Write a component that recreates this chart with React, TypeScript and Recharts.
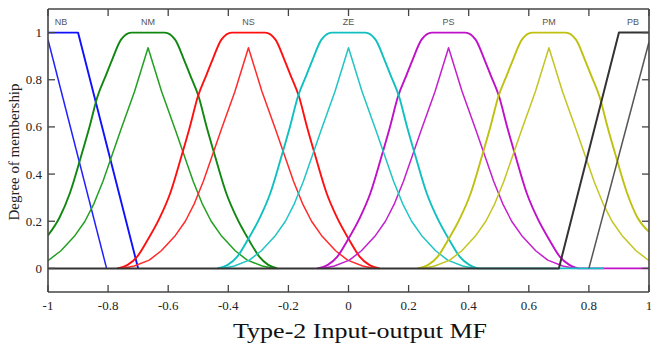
import React from 'react';
import { LineChart, Line, XAxis, YAxis, ReferenceDot } from 'recharts';

type P = [number, number];

const nbUpper: P[] = [[-1, 1], [-0.9, 1], [-0.7, 0]];
const nbLower: P[] = [[-1, 0.97], [-0.805, 0]];

const nmUpper: P[] = [[-1, 0.14], [-0.962, 0.215], [-0.927, 0.32], [-0.889, 0.48], [-0.862, 0.6], [-0.835, 0.73], [-0.807, 0.82], [-0.785, 0.89], [-0.757, 0.97], [-0.723, 1], [-0.611, 1], [-0.577, 0.97], [-0.549, 0.89], [-0.527, 0.82], [-0.499, 0.73], [-0.472, 0.6], [-0.445, 0.48], [-0.407, 0.32], [-0.372, 0.215], [-0.329, 0.115], [-0.297, 0.05], [-0.267, 0.015], [-0.237, 0]];
const nmLower: P[] = [[-1, 0.033], [-0.957, 0.075], [-0.91, 0.14], [-0.877, 0.2], [-0.847, 0.275], [-0.817, 0.37], [-0.787, 0.48], [-0.757, 0.59], [-0.712, 0.75], [-0.667, 0.936], [-0.622, 0.75], [-0.577, 0.59], [-0.547, 0.48], [-0.517, 0.37], [-0.487, 0.275], [-0.457, 0.2], [-0.424, 0.14], [-0.377, 0.075], [-0.337, 0.035], [-0.287, 0.01], [-0.247, 0]];

const nsUpper: P[] = [[-0.77, 0], [-0.735, 0.015], [-0.703, 0.05], [-0.671, 0.115], [-0.628, 0.215], [-0.593, 0.32], [-0.555, 0.48], [-0.528, 0.6], [-0.501, 0.73], [-0.473, 0.82], [-0.451, 0.89], [-0.423, 0.97], [-0.389, 1], [-0.277, 1], [-0.243, 0.97], [-0.215, 0.89], [-0.193, 0.82], [-0.165, 0.73], [-0.138, 0.6], [-0.111, 0.48], [-0.073, 0.32], [-0.038, 0.215], [0.005, 0.115], [0.037, 0.05], [0.069, 0.015], [0.104, 0]];
const nsLower: P[] = [[-0.753, 0], [-0.713, 0.01], [-0.663, 0.035], [-0.623, 0.075], [-0.576, 0.14], [-0.543, 0.2], [-0.513, 0.275], [-0.483, 0.37], [-0.453, 0.48], [-0.423, 0.59], [-0.378, 0.75], [-0.333, 0.936], [-0.288, 0.75], [-0.243, 0.59], [-0.213, 0.48], [-0.183, 0.37], [-0.153, 0.275], [-0.123, 0.2], [-0.09, 0.14], [-0.043, 0.075], [-0.003, 0.035], [0.047, 0.01], [0.087, 0]];

const zeUpper: P[] = [[-0.437, 0], [-0.402, 0.015], [-0.37, 0.05], [-0.338, 0.115], [-0.295, 0.215], [-0.26, 0.32], [-0.222, 0.48], [-0.195, 0.6], [-0.168, 0.73], [-0.14, 0.82], [-0.118, 0.89], [-0.09, 0.97], [-0.056, 1], [0.056, 1], [0.09, 0.97], [0.118, 0.89], [0.14, 0.82], [0.168, 0.73], [0.195, 0.6], [0.222, 0.48], [0.26, 0.32], [0.295, 0.215], [0.338, 0.115], [0.37, 0.05], [0.402, 0.015], [0.437, 0], [0.85, 0]];
const zeLower: P[] = [[-0.42, 0], [-0.38, 0.01], [-0.33, 0.035], [-0.29, 0.075], [-0.243, 0.14], [-0.21, 0.2], [-0.18, 0.275], [-0.15, 0.37], [-0.12, 0.48], [-0.09, 0.59], [-0.045, 0.75], [0, 0.936], [0.045, 0.75], [0.09, 0.59], [0.12, 0.48], [0.15, 0.37], [0.18, 0.275], [0.21, 0.2], [0.243, 0.14], [0.29, 0.075], [0.33, 0.035], [0.38, 0.01], [0.42, 0]];

const psUpper: P[] = [[-0.104, 0], [-0.069, 0.015], [-0.037, 0.05], [-0.005, 0.115], [0.038, 0.215], [0.073, 0.32], [0.111, 0.48], [0.138, 0.6], [0.165, 0.73], [0.193, 0.82], [0.215, 0.89], [0.243, 0.97], [0.277, 1], [0.389, 1], [0.423, 0.97], [0.451, 0.89], [0.473, 0.82], [0.501, 0.73], [0.528, 0.6], [0.555, 0.48], [0.593, 0.32], [0.628, 0.215], [0.671, 0.115], [0.703, 0.05], [0.735, 0.015], [0.77, 0], [1, 0]];
const psLower: P[] = [[-0.087, 0], [-0.047, 0.01], [0.003, 0.035], [0.043, 0.075], [0.09, 0.14], [0.123, 0.2], [0.153, 0.275], [0.183, 0.37], [0.213, 0.48], [0.243, 0.59], [0.288, 0.75], [0.333, 0.936], [0.378, 0.75], [0.423, 0.59], [0.453, 0.48], [0.483, 0.37], [0.513, 0.275], [0.543, 0.2], [0.576, 0.14], [0.623, 0.075], [0.663, 0.035], [0.713, 0.01], [0.753, 0]];

const pmUpper: P[] = [[0.23, 0], [0.265, 0.015], [0.297, 0.05], [0.329, 0.115], [0.372, 0.215], [0.407, 0.32], [0.445, 0.48], [0.472, 0.6], [0.499, 0.73], [0.527, 0.82], [0.549, 0.89], [0.577, 0.97], [0.611, 1], [0.723, 1], [0.757, 0.97], [0.785, 0.89], [0.807, 0.82], [0.835, 0.73], [0.862, 0.6], [0.889, 0.48], [0.927, 0.32], [0.962, 0.215], [1, 0.155]];
const pmLower: P[] = [[0.247, 0], [0.287, 0.01], [0.337, 0.035], [0.377, 0.075], [0.424, 0.14], [0.457, 0.2], [0.487, 0.275], [0.517, 0.37], [0.547, 0.48], [0.577, 0.59], [0.622, 0.75], [0.667, 0.936], [0.712, 0.75], [0.757, 0.59], [0.787, 0.48], [0.817, 0.37], [0.847, 0.275], [0.877, 0.2], [0.91, 0.14], [0.957, 0.075], [1, 0.033]];

const pbUpper: P[] = [[-1, 0], [0.7, 0], [0.9, 1], [1, 1]];
const pbLower: P[] = [[0.8, 0], [1, 0.96]];

const mfNames = ['NB', 'NM', 'NS', 'ZE', 'PS', 'PM', 'PB'];
const mfLabelX = [-0.957, -0.667, -0.333, 0, 0.333, 0.667, 0.947];

const tickX = [-1, -0.8, -0.6, -0.4, -0.2, 0, 0.2, 0.4, 0.6, 0.8, 1];
const tickXLabels = ['-1', '-0.8', '-0.6', '-0.4', '-0.2', '0', '0.2', '0.4', '0.6', '0.8', '1'];
const tickY = [0, 0.2, 0.4, 0.6, 0.8, 1];
const tickYLabels = ['0', '0.2', '0.4', '0.6', '0.8', '1'];

const SERIF = '"Liberation Serif", "Times New Roman", serif';
const FRAME = '#444';

const toData = (pts: P[]) => pts.map(([x, y]) => ({ x, y }));

type Series = { key: string; pts: P[]; color: string; width: number; type: 'monotone' | 'linear' };
const series: Series[] = [
  { key: 'nbU', pts: nbUpper, color: '#1010ff', width: 1.9, type: 'linear' },
  { key: 'nbL', pts: nbLower, color: '#2020ff', width: 1.5, type: 'linear' },
  { key: 'nmU', pts: nmUpper, color: '#108810', width: 1.9, type: 'monotone' },
  { key: 'nmL', pts: nmLower, color: '#22a022', width: 1.5, type: 'linear' },
  { key: 'nsU', pts: nsUpper, color: '#ff1010', width: 1.9, type: 'monotone' },
  { key: 'nsL', pts: nsLower, color: '#ff2a2a', width: 1.5, type: 'linear' },
  { key: 'psU', pts: psUpper, color: '#c010c8', width: 1.9, type: 'monotone' },
  { key: 'psL', pts: psLower, color: '#c420cc', width: 1.5, type: 'linear' },
  { key: 'zeU', pts: zeUpper, color: '#10c0c0', width: 1.9, type: 'monotone' },
  { key: 'zeL', pts: zeLower, color: '#22c4c4', width: 1.5, type: 'linear' },
  { key: 'pmU', pts: pmUpper, color: '#c0c010', width: 1.9, type: 'monotone' },
  { key: 'pmL', pts: pmLower, color: '#c4c422', width: 1.5, type: 'linear' },
  { key: 'pbU', pts: pbUpper, color: '#333333', width: 2, type: 'linear' },
  { key: 'pbL', pts: pbLower, color: '#555555', width: 1.5, type: 'linear' },
];

const TL = 7;

const BottomTick = (p: any) => {
  const { x, y, payload } = p;
  const i = tickX.indexOf(payload.value);
  return (
    <g>
      <line x1={x} y1={y} x2={x} y2={y - TL} stroke={FRAME} strokeWidth={1.3} />
      <text x={x} y={y + 18} textAnchor="middle" fontFamily={SERIF} fontSize={13} fill="#222">
        {tickXLabels[i]}
      </text>
    </g>
  );
};
const TopTick = (p: any) => {
  const { x, y } = p;
  return <line x1={x} y1={y} x2={x} y2={y + TL} stroke={FRAME} strokeWidth={1.3} />;
};
const LeftTick = (p: any) => {
  const { x, y, payload } = p;
  const i = tickY.indexOf(payload.value);
  return (
    <g>
      <line x1={x} y1={y} x2={x + TL} y2={y} stroke={FRAME} strokeWidth={1.3} />
      <text x={x - 6} y={y + 4.5} textAnchor="end" fontFamily={SERIF} fontSize={13} fill="#222">
        {tickYLabels[i]}
      </text>
    </g>
  );
};
const RightTick = (p: any) => {
  const { x, y } = p;
  return <line x1={x} y1={y} x2={x - TL} y2={y} stroke={FRAME} strokeWidth={1.3} />;
};

export default function App() {
  return (
    <div style={{ position: 'absolute', left: 0, top: 0, width: 651, height: 345, background: '#fff' }}>
      <LineChart width={651} height={345} margin={{ top: 0, right: 0, bottom: 0, left: 0 }}>
        <XAxis
          dataKey="x"
          type="number"
          domain={[-1, 1]}
          ticks={tickX}
          allowDataOverflow
          height={53}
          tickLine={false}
          tickSize={0}
          tickMargin={0}
          tick={BottomTick}
          interval={0}
          axisLine={{ stroke: FRAME, strokeWidth: 1.6 }}
        />
        <XAxis
          xAxisId="t"
          orientation="top"
          dataKey="x"
          type="number"
          domain={[-1, 1]}
          ticks={tickX}
          allowDataOverflow
          height={9}
          tickLine={false}
          tickSize={0}
          tickMargin={0}
          tick={TopTick}
          interval={0}
          axisLine={{ stroke: FRAME, strokeWidth: 1.6 }}
        />
        <YAxis
          type="number"
          domain={[-0.1, 1.1]}
          ticks={tickY}
          allowDataOverflow
          width={48}
          tickLine={false}
          tickSize={0}
          tickMargin={0}
          tick={LeftTick}
          interval={0}
          axisLine={{ stroke: FRAME, strokeWidth: 1.6 }}
        />
        <YAxis
          yAxisId="r"
          orientation="right"
          type="number"
          domain={[-0.1, 1.1]}
          ticks={tickY}
          allowDataOverflow
          width={2}
          tickLine={false}
          tickSize={0}
          tickMargin={0}
          tick={RightTick}
          interval={0}
          axisLine={{ stroke: FRAME, strokeWidth: 1.6 }}
        />
        {series.map((s) => (
          <Line
            key={s.key}
            data={toData(s.pts)}
            dataKey="y"
            type={s.type}
            stroke={s.color}
            strokeWidth={s.width}
            dot={false}
            activeDot={false}
            isAnimationActive={false}
            strokeLinejoin="round"
          />
        ))}
        {mfNames.map((n, i) => (
          <ReferenceDot
            key={n}
            x={mfLabelX[i]}
            y={1.044}
            r={0}
            fill="none"
            stroke="none"
            label={{ value: n, position: 'center', fill: '#555', fontSize: 9, fontFamily: 'Liberation Sans, Arial, sans-serif' }}
          />
        ))}
      </LineChart>
      <svg width={651} height={345} style={{ position: 'absolute', left: 0, top: 0, pointerEvents: 'none' }}>
        <text
          x={360}
          y={338}
          textAnchor="middle"
          fontFamily={SERIF}
          fontSize={22}
          fill="#111"
          textLength={254}
          lengthAdjust="spacingAndGlyphs"
        >
          Type-2 Input-output MF
        </text>
        <text
          transform="translate(19,152) rotate(-90)"
          textAnchor="middle"
          fontFamily={SERIF}
          fontSize={14}
          fill="#222"
          textLength={137}
          lengthAdjust="spacingAndGlyphs"
        >
          Degree of membership
        </text>
      </svg>
    </div>
  );
}
